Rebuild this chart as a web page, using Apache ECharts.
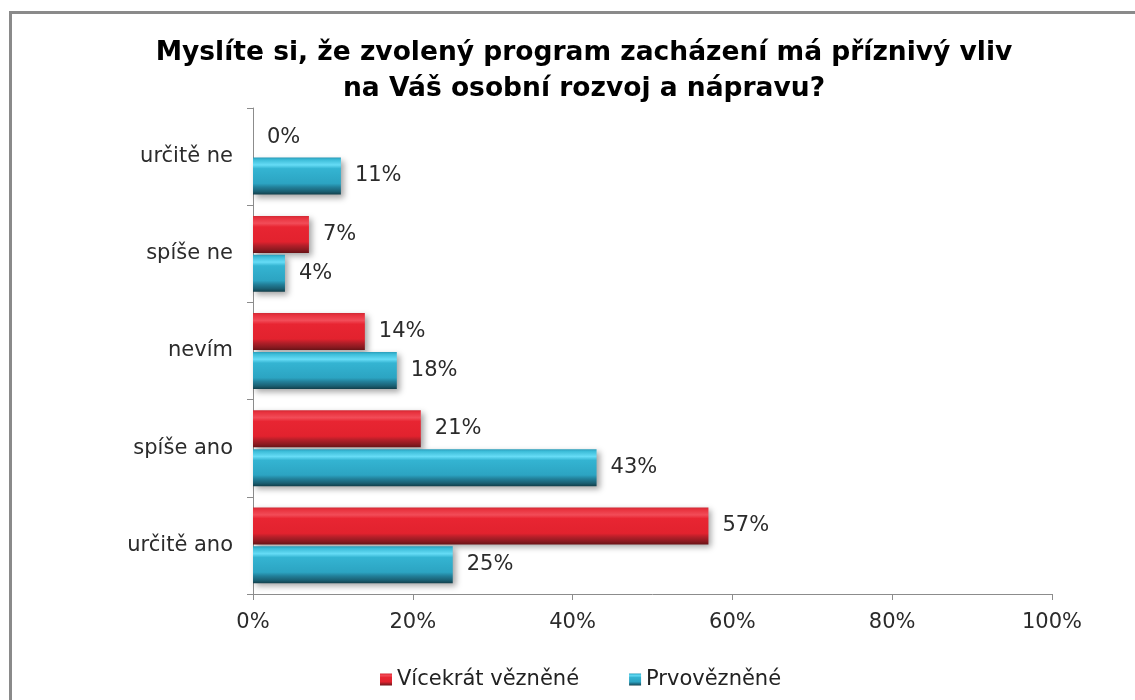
<!DOCTYPE html>
<html>
<head>
<meta charset="utf-8">
<script src="https://cdn.jsdelivr.net/npm/echarts@6/dist/echarts.min.js"></script>
<style>
html,body{margin:0;padding:0;background:#fff;overflow:hidden;}
#frame{position:absolute;left:9px;top:11px;width:1200px;height:800px;border:3px solid #8a8a8a;box-sizing:border-box;}
#chart{position:absolute;left:0;top:0;width:1135px;height:700px;}
</style>
</head>
<body>
<div id="frame"></div>
<div id="chart"></div>
<script>
const titleText = 'Myslíte si, že zvolený program zacházení má příznivý vliv\nna Váš osobní rozvoj a nápravu?';
const categories = ['určitě ano', 'spíše ano', 'nevím', 'spíše ne', 'určitě ne'];
const seriesNames = ['Vícekrát vězněné', 'Prvovězněné'];
const repeatOffenders = [57, 21, 14, 7, 0];
const firstOffenders = [25, 43, 18, 4, 11];
const xTicks = [0, 20, 40, 60, 80, 100];

const FONT = 'DejaVu Sans';
function grad(stops){
  return new echarts.graphic.LinearGradient(0,0,0,1, stops.map(s=>({offset:s[0],color:s[1]})));
}
const redGrad = grad([[0,'#d02a35'],[0.06,'#e8323e'],[0.2,'#f24c58'],[0.3,'#e82532'],[0.7,'#e2222e'],[0.8,'#b41f29'],[0.92,'#8a1a20'],[1,'#6a1216']]);
const blueGrad = grad([[0,'#2a9cb9'],[0.06,'#3cbcd8'],[0.2,'#66dcf6'],[0.3,'#34b4d2'],[0.7,'#2ca4c2'],[0.8,'#22809a'],[0.92,'#1a5f72'],[1,'#123f4b']]);

const chart = echarts.init(document.getElementById('chart'));
const labelCfg = {
  show: true, position: 'right', distance: 14,
  formatter: p => p.value + '%',
  fontFamily: FONT, fontSize: 21, color: '#2b2b2b'
};
chart.setOption({
  animation: false,
  textStyle: {fontFamily: FONT},
  title: {
    text: titleText, left: 579, textAlign: 'center', top: 30,
    textStyle: {fontFamily: FONT, fontWeight: 'bold', fontSize: 26.5, color: '#000', lineHeight: 36}
  },
  legend: {
    data: seriesNames, bottom: 5, left: 375,
    itemWidth: 12, itemHeight: 12, itemGap: 50,
    icon: 'rect',
    textStyle: {fontFamily: FONT, fontSize: 21, color: '#222'}
  },
  grid: {left: 253, right: 83, top: 108, bottom: 106, containLabel: false},
  xAxis: {
    type: 'value', min: 0, max: 100, interval: 20,
    axisLine: {show: true, lineStyle: {color: '#8c8c8c', width: 1}},
    axisTick: {show: true, length: 6, lineStyle: {color: '#8c8c8c'}},
    splitLine: {show: false},
    axisLabel: {formatter: v => v + '%', fontFamily: FONT, fontSize: 21, color: '#2b2b2b', margin: 18}
  },
  yAxis: {
    type: 'category', data: categories,
    axisLine: {show: true, lineStyle: {color: '#8c8c8c', width: 1}},
    axisTick: {show: true, length: 6, inside: false, lineStyle: {color: '#8c8c8c'}},
    axisLabel: {fontFamily: FONT, fontSize: 21, color: '#2b2b2b', margin: 20}
  },
  series: [
    {
      name: seriesNames[0], type: 'bar', data: repeatOffenders,
      barWidth: 37, barGap: '5%',
      itemStyle: {color: redGrad, shadowColor: 'rgba(0,0,0,0.35)', shadowBlur: 6, shadowOffsetX: 3, shadowOffsetY: 3},
      label: labelCfg
    },
    {
      name: seriesNames[1], type: 'bar', data: firstOffenders,
      barWidth: 37, barGap: '5%',
      itemStyle: {color: blueGrad, shadowColor: 'rgba(0,0,0,0.35)', shadowBlur: 6, shadowOffsetX: 3, shadowOffsetY: 3},
      label: labelCfg
    }
  ]
});
</script>
</body>
</html>
